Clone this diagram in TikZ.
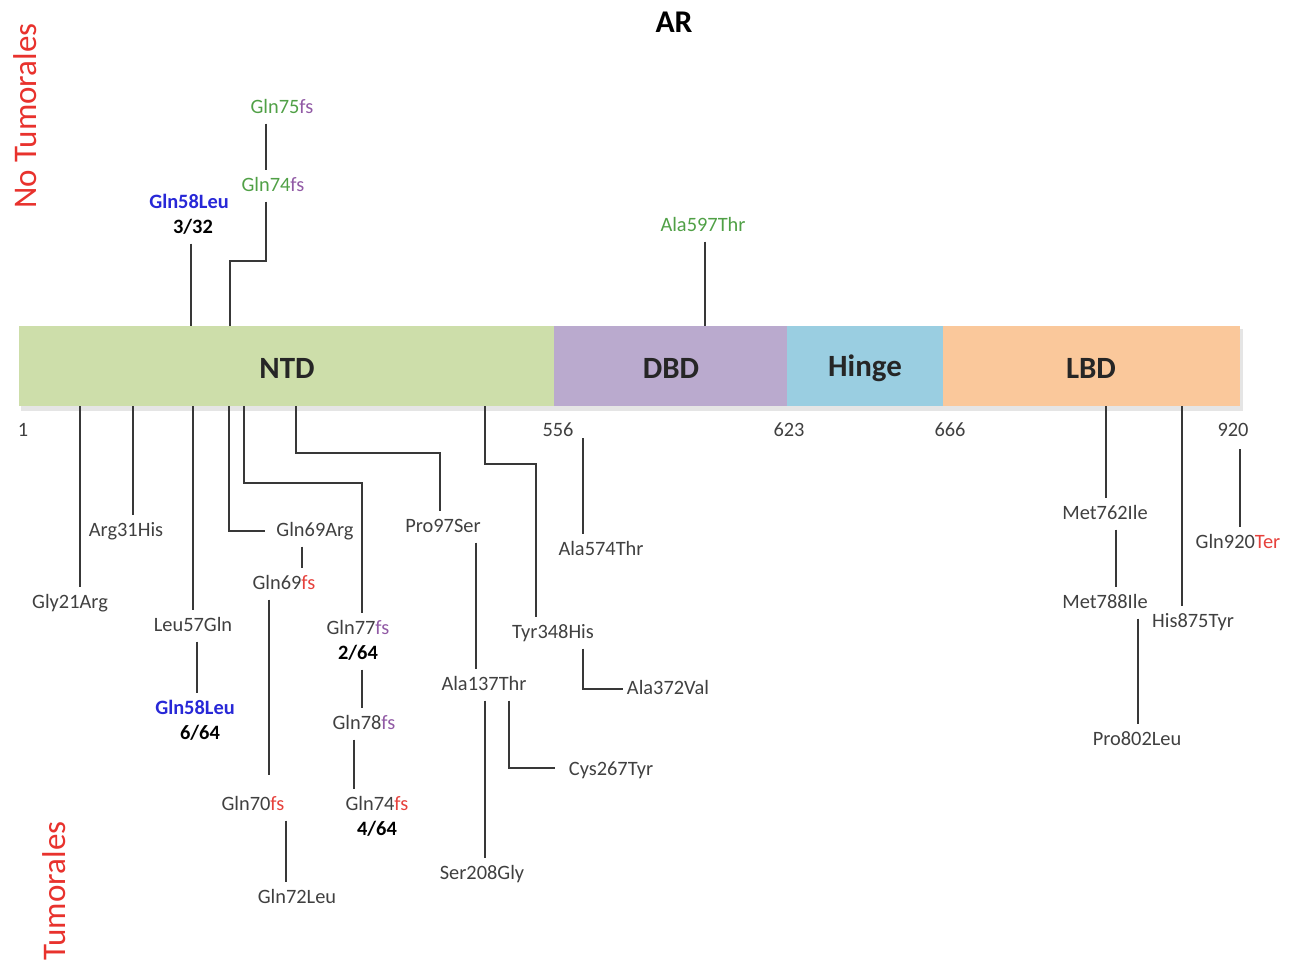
\documentclass[tikz,border=0pt]{standalone}
\usepackage{fontspec}
\setmainfont{Carlito}
\usepackage{xcolor}
\usepackage{tikz}
\usetikzlibrary{calc}
\definecolor{VerdeNTD}{RGB}{205,222,170}
\definecolor{LilaDBD}{RGB}{186,170,206}
\definecolor{AzulHinge}{RGB}{154,206,225}
\definecolor{NaranjaLBD}{RGB}{250,200,155}
\definecolor{GrisTexto}{RGB}{64,64,64}
\definecolor{VerdeMut}{RGB}{80,160,70}
\definecolor{MoradoFs}{RGB}{145,90,165}
\definecolor{RojoFs}{RGB}{230,65,60}
\definecolor{AzulMut}{RGB}{40,40,215}
\definecolor{RojoTit}{RGB}{232,50,45}
\newcommand{\tammut}{\fontsize{11.6}{13}\selectfont}

\begin{document}
\begin{tikzpicture}[x=0.02cm,y=-0.02cm,
  mut/.style={font=\tammut,text=GrisTexto,inner xsep=2pt,inner ysep=4.5pt,text height=1.5ex,text depth=0.25ex},
  cuenta/.style={mut,font=\tammut\bfseries,text=black},
  dom/.style={font=\fontsize{17.6}{20}\selectfont\bfseries,text=black!85},
  titulo/.style={font=\fontsize{18.8}{22}\selectfont,text=RojoTit,rotate=90},
  lin/.style={draw=black!78,line width=0.9pt}]
  \useasboundingbox (0,0) rectangle (1297,967);
  % proteina
  \fill[black!10] (21,329) rectangle (1243,411);
  \fill[VerdeNTD] (19,326) rectangle (554,406);
  \fill[LilaDBD] (554,326) rectangle (787,406);
  \fill[AzulHinge] (787,326) rectangle (943,406);
  \fill[NaranjaLBD] (943,326) rectangle (1240,406);
  \node[dom] (ntd) at (287,368) {NTD};
  \node[dom] (dbd) at (671,368) {DBD};
  \node[dom] (hinge) at (865,368) {Hinge};
  \node[dom] (lbd) at (1091,368) {LBD};
  \node[font=\fontsize{18}{22}\selectfont\bfseries] (ar) at (674,22) {AR};
  \node[titulo] (notum) at (25,116) {No Tumorales};
  \node[titulo] (tum) at (54,891) {Tumorales};
  % posiciones
  \node[mut] (p1) at (23,431) {1};
  \node[mut] (p556) at (558,431) {556};
  \node[mut] (p623) at (789,431) {623};
  \node[mut] (p666) at (950,431) {666};
  \node[mut] (p920) at (1233,431) {920};
  % no tumorales
  \node[mut,text=VerdeMut] (q75t) at (282,108) {Gln75\textcolor{MoradoFs}{fs}};
  \node[mut,text=VerdeMut] (q74t) at (273,186) {Gln74\textcolor{MoradoFs}{fs}};
  \node[cuenta,text=AzulMut] (q58t) at (189,203) {Gln58Leu};
  \node[cuenta] (f332) at (193,228) {3/32};
  \node[mut,text=VerdeMut] (a597) at (703,226) {Ala597Thr};
  \coordinate (k74) at (266,261);
  \coordinate (t74) at (230,326);
  \coordinate (t58) at (191,326);
  \coordinate (t597) at (705,326);
  \draw[lin] (q75t.south -| k74) -- (q74t.north -| k74);
  \draw[lin] (q74t.south -| k74) -- (k74) -| (t74);
  \draw[lin] (f332.south -| t58) -- (t58);
  \draw[lin] (a597.south -| t597) -- (t597);
  % tumorales
  \node[mut] (g21) at (70,603) {Gly21Arg};
  \node[mut] (r31) at (126,531) {Arg31His};
  \node[mut] (l57) at (193,626) {Leu57Gln};
  \node[cuenta,text=AzulMut] (q58b) at (195,709) {Gln58Leu};
  \node[cuenta] (f664) at (200,734) {6/64};
  \node[mut] (q69r) at (315,531) {Gln69Arg};
  \node[mut] (q69f) at (284,584) {Gln69\textcolor{RojoFs}{fs}};
  \node[mut] (q70) at (253,805) {Gln70\textcolor{RojoFs}{fs}};
  \node[mut] (q72) at (297,898) {Gln72Leu};
  \node[mut] (q77) at (358,629) {Gln77\textcolor{MoradoFs}{fs}};
  \node[cuenta] (f264) at (358,654) {2/64};
  \node[mut] (q78) at (364,724) {Gln78\textcolor{MoradoFs}{fs}};
  \node[mut] (q74b) at (377,805) {Gln74\textcolor{RojoFs}{fs}};
  \node[cuenta] (f464) at (377,830) {4/64};
  \node[mut] (p97) at (443,527) {Pro97Ser};
  \node[mut] (a137) at (484,685) {Ala137Thr};
  \node[mut] (s208) at (482,874) {Ser208Gly};
  \node[mut] (c267) at (611,770) {Cys267Tyr};
  \node[mut] (y348) at (553,633) {Tyr348His};
  \node[mut] (a372) at (668,689) {Ala372Val};
  \node[mut] (a574) at (601,550) {Ala574Thr};
  \node[mut] (m762) at (1105,514) {Met762Ile};
  \node[mut] (m788) at (1105,603) {Met788Ile};
  \node[mut] (p802) at (1137,740) {Pro802Leu};
  \node[mut] (h875) at (1193,622) {His875Tyr};
  \node[mut] (q920) at (1238,543) {Gln920\textcolor{RojoFs}{Ter}};
  \coordinate (b21) at (80,406);
  \coordinate (b31) at (133,406);
  \coordinate (b57) at (193,406);
  \coordinate (b69) at (229,406);
  \coordinate (b77) at (244,406);
  \coordinate (b97) at (296,406);
  \coordinate (b348) at (485,406);
  \coordinate (b762) at (1106,406);
  \coordinate (b875) at (1182,406);
  \coordinate (x58) at (197,0);
  \coordinate (x69) at (302,0);
  \coordinate (x70) at (269,0);
  \coordinate (x72) at (286,0);
  \coordinate (k77) at (362,483);
  \coordinate (x74) at (354,0);
  \coordinate (k97) at (440,453);
  \coordinate (x137) at (476,0);
  \coordinate (x208) at (485,0);
  \coordinate (k267) at (509,768);
  \coordinate (k348) at (536,464);
  \coordinate (k372) at (583,689);
  \coordinate (s574) at (583,438);
  \coordinate (x788) at (1116,0);
  \coordinate (x802) at (1138,0);
  \coordinate (s920) at (1240,449);
  \draw[lin] (b21) -- (g21.north -| b21);
  \draw[lin] (b31) -- (r31.north -| b31);
  \draw[lin] (b57) -- (l57.north -| b57);
  \draw[lin] (l57.south -| x58) -- (q58b.north -| x58);
  \draw[lin,shorten >=4.5pt] (b69) |- (q69r.west);
  \draw[lin] (q69r.south -| x69) -- (q69f.north -| x69);
  \draw[lin,shorten >=8pt] (q69f.south -| x70) -- (q70.north -| x70);
  \draw[lin] (q70.south -| x72) -- (q72.north -| x72);
  \draw[lin] (b77) |- (k77) -- (q77.north -| k77);
  \draw[lin] (f264.south -| k77) -- (q78.north -| k77);
  \draw[lin] (q78.south -| x74) -- (q74b.north -| x74);
  \draw[lin] (b97) |- (k97) -- (p97.north -| k97);
  \draw[lin] (p97.south -| x137) -- (a137.north -| x137);
  \draw[lin] (a137.south -| x208) -- (s208.north -| x208);
  \draw[lin,shorten >=5.5pt] (a137.south -| k267) -- (k267) -- (c267.west |- k267);
  \draw[lin] (b348) |- (k348) -- (y348.north -| k348);
  \draw[lin] (y348.south -| k372) -- (k372) -- (a372.west);
  \draw[lin] (s574) -- (a574.north -| s574);
  \draw[lin] (b762) -- (m762.north -| b762);
  \draw[lin] (m762.south -| x788) -- (m788.north -| x788);
  \draw[lin] (m788.south -| x802) -- (p802.north -| x802);
  \draw[lin] (b875) -- (h875.north -| b875);
  \draw[lin] (s920) -- (q920.north -| s920);
\end{tikzpicture}
\end{document}
